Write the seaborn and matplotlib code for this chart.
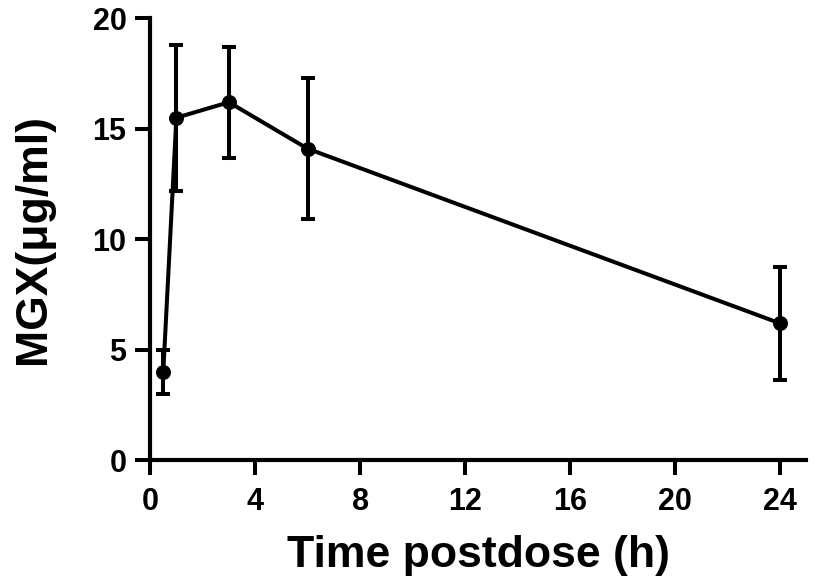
import pandas as pd
import seaborn as sns
import matplotlib.pyplot as plt

time_h = [0.5, 1, 3, 6, 24]
mgx_mean = [4.0, 15.5, 16.2, 14.1, 6.2]
mgx_sd = [1.0, 3.3, 2.5, 3.2, 2.55]

df = pd.DataFrame({"time": time_h, "mgx": mgx_mean, "sd": mgx_sd})

sns.set_style("ticks")
plt.rcParams['font.family'] = ['Liberation Sans', 'DejaVu Sans']
plt.rcParams['text.color'] = 'black'
plt.rcParams['axes.labelcolor'] = 'black'
plt.rcParams['xtick.color'] = 'black'
plt.rcParams['ytick.color'] = 'black'

fig = plt.figure(figsize=(8.16, 5.88), dpi=100)
ax = fig.add_axes([0.184, 0.217, 0.804, 0.752])

ax.errorbar(df["time"], df["mgx"], yerr=df["sd"], fmt="none",
            ecolor="black", elinewidth=2.9, capsize=5, capthick=2.9, zorder=2)
sns.lineplot(data=df, x="time", y="mgx", ax=ax, color="black", linewidth=2.9,
             marker="o", markersize=10, markeredgecolor="black", zorder=3)

ax.set_xlim(0, 25)
ax.set_ylim(0, 20)
ax.set_xticks(range(0, 25, 4))
ax.set_yticks(range(0, 21, 5))

ax.set_xlabel("Time postdose (h)", fontsize=32, fontweight="bold", labelpad=13)
ax.set_ylabel("MGX(\u03bcg/ml)", fontsize=32, fontweight="bold", labelpad=28)
ax.tick_params(axis="both", labelsize=22, width=2.9, length=11, color="black",
               labelcolor="black")
ax.tick_params(axis="x", pad=8)
ax.tick_params(axis="y", pad=6)
for t in ax.get_xticklabels() + ax.get_yticklabels():
    t.set_fontweight("bold")

sns.despine(ax=ax)
for s in ["left", "bottom"]:
    ax.spines[s].set_linewidth(3)
    ax.spines[s].set_color("black")

plt.savefig("out.png", dpi=100)
plt.close()
